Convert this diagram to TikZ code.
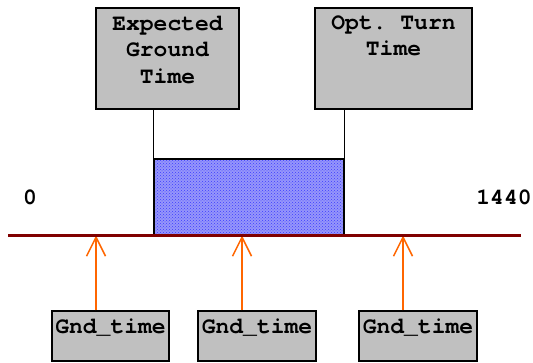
\documentclass[tikz,border=0pt]{standalone}
\usepackage{fontspec}
\setmonofont{texgyrecursor}[Extension=.otf,UprightFont=*-regular,BoldFont=*-bold]
\usetikzlibrary{arrows.meta,patterns}
\definecolor{axisred}{RGB}{128,0,0}
\definecolor{arroworange}{RGB}{255,102,0}
\definecolor{boxgrey}{RGB}{192,192,192}
\definecolor{hatchblue}{RGB}{60,60,255}
\definecolor{hatchfill}{RGB}{150,150,250}
\begin{document}
\begin{tikzpicture}[x=1pt,y=-1pt,
   greybox/.style={draw=black,line width=1.2pt,fill=boxgrey,inner sep=0pt},
   lbl/.style={font=\fontsize{23}{26.5}\selectfont\ttfamily\bfseries,inner sep=0pt,align=center},
   gndarrow/.style={draw=arroworange,line width=1.5pt,-{Straight Barb[length=19pt,width=19pt]}}]
   \useasboundingbox (0,0) rectangle (533,363);
   % top boxes
   \node[greybox,minimum width=143pt,minimum height=101pt] (expbox) at (167.5,58.5) {};
   \node[greybox,minimum width=157pt,minimum height=101pt] (optbox) at (393.5,58.5) {};
   \node[lbl,anchor=north] (exptxt) at (167.5,15.5) {Expected\\Ground\\Time};
   \node[lbl,anchor=north] (opttxt) at (393.5,15.5) {Opt. Turn\\Time};
   % ground window
   \node[draw,line width=1.2pt,inner sep=0pt,preaction={fill=hatchfill},
         pattern=crosshatch dots,pattern color=hatchblue,
         minimum width=190pt,minimum height=76pt] (gndwin) at (249,197) {};
   \draw[line width=1.2pt] (gndwin.north west) -- (gndwin.north west |- expbox.south);
   \draw[line width=1.2pt] (gndwin.north east) -- (gndwin.north east |- optbox.south);
   % bottom boxes
   \node[greybox,minimum width=117pt,minimum height=50pt] (gnd1) at (110.5,336) {};
   \node[greybox,minimum width=118pt,minimum height=50pt] (gnd2) at (257,336) {};
   \node[greybox,minimum width=118pt,minimum height=50pt] (gnd3) at (418,336) {};
   \node[lbl,anchor=base] (gndtxt1) at (110.5,334) {Gnd\_time};
   \node[lbl,anchor=base] (gndtxt2) at (257,334) {Gnd\_time};
   \node[lbl,anchor=base] (gndtxt3) at (418,334) {Gnd\_time};
   % time axis
   \coordinate (axl) at (8,235.5);
   \coordinate (axr) at (521,235.5);
   \draw[gndarrow] ([xshift=-14.5pt]gnd1.north) -- ([xshift=-14.5pt]gnd1.north |- axl);
   \draw[gndarrow] ([xshift=-15pt]gnd2.north) -- ([xshift=-15pt]gnd2.north |- axl);
   \draw[gndarrow] ([xshift=-15pt]gnd3.north) -- ([xshift=-15pt]gnd3.north |- axl);
   \draw[axisred,line width=3.5pt] (axl) -- (axr);
   \node[lbl,anchor=base] (tzero) at (30,205) {0};
   \node[lbl,anchor=base] (tend) at (504,205) {1440};
\end{tikzpicture}
\end{document}
